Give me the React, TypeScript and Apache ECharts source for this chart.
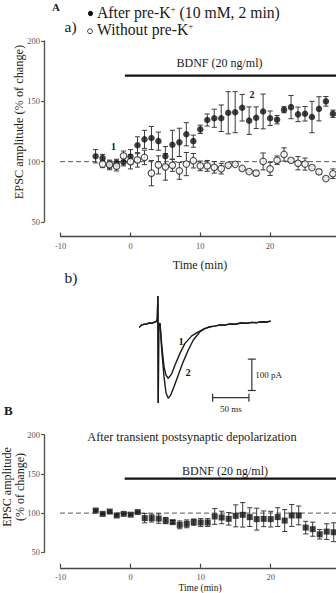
import React, { useEffect, useRef } from "react";
import * as echarts from "echarts";

const FONT = '"Liberation Serif", "Times New Roman", serif';

// ---------- Panel A (a): EPSC amplitude, % of change ----------
const minutesPreK = [-5, -4, -3, -2, -1, 0, 1, 2, 3, 4, 5, 6, 7, 8, 9, 10, 11, 12, 13, 14, 15, 16, 17, 18, 19, 20, 21, 22, 23, 24, 25, 26, 27, 28, 29];
const preKMean = [104.5, 103, 97.3, 99, 99.5, 104, 113.6, 118.5, 119.6, 117, 104.5, 114, 116, 122.7, 117, 126.8, 134.5, 136, 136, 140.5, 141, 144.7, 134, 136.4, 141.6, 136, 134.8, 143, 145.2, 139.2, 139.7, 137, 143.8, 150, 139.7];
const preKErr = [5.5, 3, 4, 3, 3, 6, 7, 7.5, 9.6, 7.5, 8, 12, 11.7, 9.6, 5, 3.5, 5, 7.5, 11, 17.5, 17, 11, 11.4, 9, 14.4, 6, 3.5, 2.5, 9.6, 6, 6, 13, 10, 4, 3];

const minutesNoPreK = [-4, -3, -2, -1, 0, 1, 2, 3, 4, 5, 6, 7, 8, 9, 10, 11, 12, 13, 14, 15, 16, 17, 18, 19, 20, 21, 22, 23, 24, 25, 26, 27, 28, 29];
const noPreKMean = [98, 97.5, 96.3, 104.8, 100, 101.5, 103.5, 90.5, 97.3, 95.7, 97, 92.4, 98, 100.8, 96.5, 96.5, 95.3, 94.2, 97, 97.8, 94.4, 91.8, 90.5, 100.2, 94, 101.2, 106, 101.2, 98.7, 98, 95.1, 91.6, 86, 90];
const noPreKErr = [3, 3, 4, 4, 6, 6, 6, 10.5, 7.5, 11, 5, 7, 9.6, 6, 4, 4.5, 4.8, 4.4, 1, 1, 1, 1, 2, 7, 5.5, 3.5, 5.5, 1, 5.5, 5, 1, 2, 1, 4];

// ---------- Panel B ----------
const minutesDepol = [-5, -4, -3, -2, -1, 0, 1, 2, 3, 4, 5, 6, 7, 8, 9, 10, 11, 12, 13, 14, 15, 16, 17, 18, 19, 20, 21, 22, 23, 24, 25, 26, 27, 28, 29];
const depolMean = [103.3, 99, 102, 97, 99, 98, 101.3, 93.6, 93.6, 93, 90.5, 88.5, 85, 86.3, 88.5, 88, 88, 95.7, 94.4, 92.7, 96.5, 97.8, 94.9, 92.3, 92.7, 92.3, 94.9, 90.5, 97, 97, 81.5, 79.5, 73, 76.4, 75.6];
const depolErr = [1, 1, 1, 1, 1, 1, 1, 6, 5, 6, 4, 2, 5, 5, 4, 5, 5, 10, 8, 8, 14, 15.6, 12, 14, 10, 10, 12, 14, 14, 12, 8, 9, 6, 10, 12];

// axis ticks
const yTicks = { min: 50, max: 200, step: 50 };
const xTicks = { min: -10, max: 30, step: 10 };
const baselinePct = 100;
// BDNF application bar
const bdnfA = { start: -0.8, end: 30, level: 171.3 };
const bdnfB = { start: -0.86, end: 30, level: 144 };
// the reference line starts at the y axis (data units left of -10)
const refLineStart = -12.39;

// ---------- Panel A (b): current traces (ms, pA) ----------
const tracePre = [[0, -14], [3.3, -6], [7, -4], [10.2, -3], [14, 0], [17, -1], [21, 3], [23, 4], [24.8, 12], [25.6, 86], [26.1, -255], [26.7, -5], [28.5, -1]];
const traceDecay1 = [[30.9, -70], [34, -139], [36.8, -166], [39.9, -176], [44.6, -162], [49.2, -134], [56.1, -96], [62.9, -65], [72.2, -41], [81.3, -28], [90, -18], [97.4, -12]];
const traceDecay2 = [[30.9, -86], [34, -171], [36.8, -223], [39.9, -240], [43.3, -229], [47.8, -203], [53.7, -166], [60.6, -123], [67.5, -86], [74.4, -54], [83.6, -28], [90, -18], [97.4, -12]];
const traceTail = [[104, -10], [111.2, -6], [118, -7], [125, -3], [132, -4], [140, 0], [148, -1], [155, 2], [162, 1], [168, 4], [175, 3], [181, 6]];
// scale bars: [x0, y0, x1, y1, label]
const scaleBars: [number, number, number, number, string][] = [
  [155, -215, 155, -115, "100 pA"],
  [101, -238, 151, -238, "50 ms"],
];

function errorBars(xi: number, yi: number, xs: number[], ms: number[], es: number[], z: number) {
  return {
    type: "custom",
    xAxisIndex: xi,
    yAxisIndex: yi,
    z,
    silent: true,
    data: xs.map((x, i) => [x, ms[i] - es[i], ms[i] + es[i]]),
    encode: { x: 0, y: [1, 2] },
    renderItem: (_p: any, api: any) => {
      const x = api.value(0);
      const lo = api.coord([x, api.value(1)]);
      const hi = api.coord([x, api.value(2)]);
      const w = 2.6;
      const st = { stroke: "#3a3a3a", lineWidth: 1 };
      return {
        type: "group",
        children: [
          { type: "line", shape: { x1: lo[0], y1: lo[1], x2: hi[0], y2: hi[1] }, style: st },
          { type: "line", shape: { x1: lo[0] - w, y1: lo[1], x2: lo[0] + w, y2: lo[1] }, style: st },
          { type: "line", shape: { x1: hi[0] - w, y1: hi[1], x2: hi[0] + w, y2: hi[1] }, style: st },
        ],
      };
    },
  };
}

function xAxisCfg(gridIndex: number, offset: number) {
  return {
    type: "value",
    gridIndex,
    min: xTicks.min,
    max: xTicks.max,
    interval: xTicks.step,
    position: "bottom",
    offset,
    axisLine: { show: true, onZero: false, lineStyle: { color: "#444", width: 1.4 } },
    axisTick: { show: true, inside: true, length: 4, lineStyle: { color: "#444", width: 1.2 } },
    axisLabel: { show: true, fontSize: 8.5, color: "#555", fontFamily: FONT, margin: 5 },
    splitLine: { show: false },
  };
}
function yAxisCfg(gridIndex: number, offset: number) {
  return {
    type: "value",
    gridIndex,
    min: yTicks.min,
    max: yTicks.max,
    interval: yTicks.step,
    position: "left",
    offset,
    axisLine: { show: true, onZero: false, lineStyle: { color: "#555", width: 1.4 } },
    axisTick: { show: true, inside: false, length: 3, lineStyle: { color: "#555", width: 1.2 } },
    axisLabel: { show: true, fontSize: 8.5, color: "#555", fontFamily: FONT, margin: 4 },
    splitLine: { show: false },
  };
}

const txt = (x: number, y: number, text: string, size: number, extra: any = {}) => ({
  type: "text",
  x,
  y,
  style: { text, fontSize: size, fontFamily: FONT, fill: "#1a1a1a", verticalAlign: "middle", align: "left", ...extra },
  silent: true,
});

export default function App() {
  const ref = useRef<HTMLDivElement>(null);
  useEffect(() => {
    if (!ref.current) return;
    const chart = echarts.init(ref.current, undefined, { renderer: "svg" });
    const trace1 = [...tracePre, ...traceDecay1, ...traceTail];
    const trace2 = [...tracePre, ...traceDecay2, ...traceTail];
    const option: any = {
      animation: false,
      backgroundColor: "#fff",
      grid: [
        { left: 60.7, top: 41, width: 279.2, height: 181, outerBoundsMode: "none", containLabel: false },
        { left: 60.7, top: 434.7, width: 280, height: 117.6, outerBoundsMode: "none", containLabel: false },
        { left: 139.3, top: 291.6, width: 145.2, height: 119.3, outerBoundsMode: "none", containLabel: false },
      ],
      xAxis: [
        xAxisCfg(0, 14.5),
        xAxisCfg(1, 15.5),
        { type: "value", gridIndex: 2, min: 0, max: 200, show: false },
      ],
      yAxis: [
        yAxisCfg(0, 16.7),
        yAxisCfg(1, 16.7),
        { type: "value", gridIndex: 2, min: -280, max: 100, show: false },
      ],
      series: [
        // reference lines at 100 %
        { type: "line", xAxisIndex: 0, yAxisIndex: 0, clip: false, symbol: "none", silent: true, z: 1,
          data: [[refLineStart, baselinePct], [xTicks.max, baselinePct]],
          lineStyle: { color: "#555", width: 1, type: [5, 3] } },
        { type: "line", xAxisIndex: 1, yAxisIndex: 1, clip: false, symbol: "none", silent: true, z: 1,
          data: [[refLineStart, baselinePct], [xTicks.max, baselinePct]],
          lineStyle: { color: "#555", width: 1, type: [5, 3] } },
        // BDNF bars
        { type: "line", xAxisIndex: 0, yAxisIndex: 0, symbol: "none", silent: true, z: 1,
          data: [[bdnfA.start, bdnfA.level], [bdnfA.end, bdnfA.level]], lineStyle: { color: "#111", width: 2.3 } },
        { type: "line", xAxisIndex: 1, yAxisIndex: 1, symbol: "none", silent: true, z: 1,
          data: [[bdnfB.start, bdnfB.level], [bdnfB.end, bdnfB.level]], lineStyle: { color: "#111", width: 2.3 } },
        // error bars
        errorBars(0, 0, minutesNoPreK, noPreKMean, noPreKErr, 2),
        errorBars(0, 0, minutesPreK, preKMean, preKErr, 2),
        errorBars(1, 1, minutesDepol, depolMean, depolErr, 2),
        // markers
        { type: "scatter", xAxisIndex: 0, yAxisIndex: 0, z: 3, symbol: "circle", symbolSize: 6.5, silent: true,
          data: minutesPreK.map((t, i) => [t, preKMean[i]]), itemStyle: { color: "#111" } },
        { type: "scatter", xAxisIndex: 0, yAxisIndex: 0, z: 4, symbol: "circle", symbolSize: 6.5, silent: true,
          data: minutesNoPreK.map((t, i) => [t, noPreKMean[i]]), itemStyle: { color: "#fff", borderColor: "#222", borderWidth: 1.1 } },
        { type: "scatter", xAxisIndex: 1, yAxisIndex: 1, z: 3, symbol: "rect", symbolSize: 6, silent: true,
          data: minutesDepol.map((t, i) => [t, depolMean[i]]), itemStyle: { color: "#111" } },
        // current traces
        { type: "line", xAxisIndex: 2, yAxisIndex: 2, symbol: "none", silent: true, clip: false, z: 2,
          data: trace1, lineStyle: { color: "#1a1a1a", width: 1.4 } },
        { type: "line", xAxisIndex: 2, yAxisIndex: 2, symbol: "none", silent: true, clip: false, z: 2,
          data: trace2, lineStyle: { color: "#1a1a1a", width: 1.4 } },
        // scale bars
        { type: "custom", xAxisIndex: 2, yAxisIndex: 2, silent: true, z: 2,
          data: scaleBars.map((b) => [b[0], b[1], b[2], b[3], b[4]]),
          renderItem: (_p: any, api: any) => {
            const a = api.coord([api.value(0), api.value(1)]);
            const b = api.coord([api.value(2), api.value(3)]);
            const label = api.value(4);
            const vertical = Math.abs(a[0] - b[0]) < 0.5;
            const c = 4;
            const st = { stroke: "#333", lineWidth: 1.2 };
            const kids: any[] = [{ type: "line", shape: { x1: a[0], y1: a[1], x2: b[0], y2: b[1] }, style: st }];
            if (vertical) {
              kids.push({ type: "line", shape: { x1: a[0] - c, y1: a[1], x2: a[0] + c, y2: a[1] }, style: st });
              kids.push({ type: "line", shape: { x1: b[0] - c, y1: b[1], x2: b[0] + c, y2: b[1] }, style: st });
              kids.push({ type: "text", x: a[0] + 3.5, y: (a[1] + b[1]) / 2, style: { text: label, fontSize: 9, fontFamily: FONT, fill: "#222", verticalAlign: "middle", align: "left" } });
            } else {
              kids.push({ type: "line", shape: { x1: a[0], y1: a[1] - c, x2: a[0], y2: a[1] + c }, style: st });
              kids.push({ type: "line", shape: { x1: b[0], y1: b[1] - c, x2: b[0], y2: b[1] + c }, style: st });
              kids.push({ type: "text", x: (a[0] + b[0]) / 2, y: a[1] + 11, style: { text: label, fontSize: 9, fontFamily: FONT, fill: "#222", verticalAlign: "middle", align: "center" } });
            }
            return { type: "group", children: kids };
          } },
      ],
      graphic: [
        txt(52, 6.5, "A", 11, { fontWeight: "bold" }),
        { type: "circle", shape: { cx: 90.5, cy: 13.5, r: 2.6 }, style: { fill: "#111" }, silent: true },
        { type: "circle", shape: { cx: 90, cy: 31.2, r: 2.4 }, style: { fill: "#fff", stroke: "#222", lineWidth: 0.9 }, silent: true },
        {
          type: "text", x: 97, y: 12.3, silent: true,
          style: {
            text: "After pre-K{s|+} (10 mM, 2 min)", fontSize: 15.7, fontFamily: FONT, fill: "#1a1a1a", verticalAlign: "middle",
            rich: { s: { fontSize: 9, fontFamily: FONT, verticalAlign: "top", fill: "#1a1a1a" } },
          },
        },
        {
          type: "text", x: 97, y: 29.5, silent: true,
          style: {
            text: "Without pre-K{s|+}", fontSize: 15.7, fontFamily: FONT, fill: "#1a1a1a", verticalAlign: "middle",
            rich: { s: { fontSize: 9, fontFamily: FONT, verticalAlign: "top", fill: "#1a1a1a" } },
          },
        },
        txt(64.5, 26.5, "a)", 15.5),
        txt(219.5, 62.5, "BDNF (20 ng/ml)", 12, { align: "center" }),
        txt(113.5, 146, "1", 10, { align: "center", fontWeight: "bold" }),
        txt(252, 94, "2", 10, { align: "center", fontWeight: "bold" }),
        { ...txt(19, 122, "EPSC amplitude (% of change)", 12.3, { align: "center" }), rotation: Math.PI / 2 },
        txt(200, 265, "Time (min)", 12, { align: "center" }),
        txt(64.5, 277.5, "b)", 15.5),
        txt(181, 341.5, "1", 10.5, { align: "center", fontWeight: "bold" }),
        txt(188, 372.5, "2", 10.5, { align: "center", fontWeight: "bold" }),
        txt(4, 410, "B", 13, { fontWeight: "bold" }),
        txt(192, 436.5, "After transient postsynaptic depolarization", 12.3, { align: "center" }),
        txt(225, 471, "BDNF (20 ng/ml)", 12, { align: "center" }),
        { ...txt(7, 487, "EPSC amplitude", 12, { align: "center" }), rotation: Math.PI / 2 },
        { ...txt(20, 487, "(% of change)", 12, { align: "center" }), rotation: Math.PI / 2 },
        txt(200, 587.5, "Time (min)", 9.5, { align: "center" }),
      ],
    };
    chart.setOption(option);
    return () => chart.dispose();
  }, []);
  return <div ref={ref} style={{ position: "fixed", left: 0, top: 0, width: 336, height: 593, background: "#fff" }} />;
}
